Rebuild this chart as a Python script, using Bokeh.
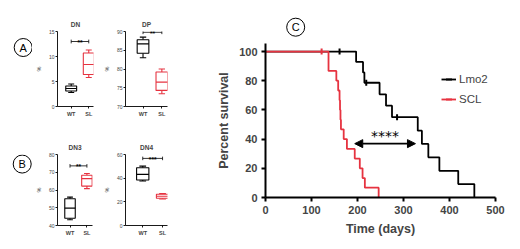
import numpy as np
from bokeh.plotting import figure
from bokeh.models import (Range1d, FixedTicker, ColumnDataSource, Arrow, NormalHead,
                          Legend, LegendItem)
from bokeh.layouts import row, column
from bokeh.embed import file_html
from bokeh.resources import INLINE
from bokeh.core.properties import value

FONT = "Liberation Sans"
BLACK = "#000000"
RED = "#e63340"

# ---------------- data ----------------
groups = ["WT", "SL"]

# box statistics: [min, q1, median, q3, max]
dn_wt = [2.8, 3.1, 3.6, 4.1, 4.5]
dn_sl = [5.8, 6.4, 8.4, 10.7, 11.3]
dp_wt = [83.0, 84.2, 86.7, 87.8, 88.5]
dp_sl = [73.4, 74.3, 76.5, 79.2, 80.0]
dn3_wt = [43.2, 44.1, 49.8, 55.1, 56.0]
dn3_sl = [60.8, 62.2, 66.4, 68.3, 69.3]
dn4_wt = [37.6, 38.4, 43.2, 48.8, 50.2]
dn4_sl = [22.4, 23.0, 24.7, 26.4, 26.9]

dn_ticks = [0, 5, 10, 15]
dp_ticks = [70, 75, 80, 85, 90]
dn3_ticks = [40, 50, 60, 70, 80]
dn4_ticks = [0, 20, 40, 60]

sig_stars = ["**", "**", "**", "***"]
sig_levels = [13.0, 89.8, 73.6, 56.7]

panel_letters = ["A", "B", "C"]

# Kaplan-Meier survival
lmo2_days = [0, 197, 212, 215, 248, 262, 275, 331, 340, 354, 378, 419, 454]
lmo2_surv = [100, 92.9, 85.7, 78.6, 70.7, 62.9, 55.0, 45.8, 36.7, 27.5, 18.3, 9.2, 0]
lmo2_censored = [161, 219, 286]
scl_days = [0, 137, 154, 158, 161, 162, 163, 164, 170, 177, 194, 205, 211, 216, 246]
scl_surv = [100, 86.7, 80.0, 73.3, 66.7, 60.0, 53.3, 46.7, 40.0, 33.3, 26.7, 20.0, 13.3, 6.7, 0]
scl_censored = [122]
surv_xticks = [0, 100, 200, 300, 400, 500]
surv_yticks = [0, 20, 40, 60, 80, 100]
logrank_days = [194, 326]
logrank_level = 36.9
logrank_stars = "****"


def base_fig(w, h, xr, yr, bl, br, bt, bb, axes=True):
    kw = dict(width=w, height=h, x_range=Range1d(*xr), y_range=Range1d(*yr),
              output_backend="svg", toolbar_location=None,
              min_border_left=bl, min_border_right=br,
              min_border_top=bt, min_border_bottom=bb)
    if not axes:
        kw.update(x_axis_type=None, y_axis_type=None)
    f = figure(**kw)
    f.grid.visible = False
    f.outline_line_color = None
    f.background_fill_color = "white"
    f.border_fill_color = "white"
    return f


def letter_fig(letter, w, h, cx, cy, diam):
    f = base_fig(w, h, (0, w), (0, h), 0, 0, 0, 0, axes=False)
    f.scatter([cx], [h - cy], marker="circle", size=diam, fill_color=None,
              line_color=BLACK, line_width=1)
    f.text([cx], [h - cy], text=[letter], text_align="center", text_baseline="middle",
           text_font=value(FONT), text_font_size="11px", text_color=BLACK)
    return f


def box_panel(title, wt, sl, ticks, yr, xr, sig, stars, w, h, bl, br, bt, bb, title_offset=0):
    f = base_fig(w, h, xr, yr, bl, br, bt, bb)
    f.title.text = title
    f.title.align = "center"
    f.title.offset = title_offset
    f.title.text_font = FONT
    f.title.text_font_size = "6.5px"
    f.title.text_font_style = "bold"
    f.title.standoff = 7
    xs = np.arange(1, len(groups) + 1)
    stats = np.array([wt, sl])
    bw, cw = 0.62, 0.17
    src = ColumnDataSource(dict(x=xs, lo=stats[:, 0], q1=stats[:, 1], med=stats[:, 2],
                                q3=stats[:, 3], hi=stats[:, 4],
                                l=xs - bw / 2, r=xs + bw / 2, cl=xs - cw, cr=xs + cw,
                                color=[BLACK, RED]))
    lw = 1.1
    f.segment(x0="x", y0="q3", x1="x", y1="hi", line_color="color", line_width=lw, source=src)
    f.segment(x0="x", y0="q1", x1="x", y1="lo", line_color="color", line_width=lw, source=src)
    f.segment(x0="cl", y0="hi", x1="cr", y1="hi", line_color="color", line_width=lw, source=src)
    f.segment(x0="cl", y0="lo", x1="cr", y1="lo", line_color="color", line_width=lw, source=src)
    f.quad(left="l", right="r", bottom="q1", top="q3", fill_color="white",
           line_color="color", line_width=lw, source=src)
    f.segment(x0="l", y0="med", x1="r", y1="med", line_color="color", line_width=lw, source=src)
    # significance bracket
    tick = 0.05 * (yr[1] - yr[0])
    f.segment(x0=[xs[0]], y0=[sig], x1=[xs[-1]], y1=[sig], line_color=BLACK, line_width=0.8)
    f.segment(x0=[xs[0], xs[-1]], y0=[sig + tick / 2] * 2, x1=[xs[0], xs[-1]],
              y1=[sig - tick / 2] * 2, line_color=BLACK, line_width=0.8)
    f.text(x=[xs.mean()], y=[sig], text=[stars], text_align="center", text_baseline="middle",
           text_font=value(FONT), text_font_size="6.5px", text_font_style="bold",
           text_color=BLACK, y_offset=1)
    # axes
    f.yaxis.ticker = FixedTicker(ticks=ticks)
    f.xaxis.ticker = FixedTicker(ticks=list(xs))
    f.xaxis.major_label_overrides = {int(x): g for x, g in zip(xs, groups)}
    f.yaxis.axis_label = "%"
    for ax in (f.xaxis[0], f.yaxis[0]):
        ax.axis_line_width = 0.9
        ax.major_tick_line_width = 0.9
        ax.major_tick_out = 2
        ax.major_tick_in = 0
        ax.minor_tick_out = 0
        ax.minor_tick_in = 0
        ax.major_label_text_font = FONT
        ax.major_label_standoff = 1
        ax.axis_label_text_font = FONT
        ax.axis_label_text_font_size = "5.5px"
        ax.axis_label_text_font_style = "normal"
        ax.axis_label_standoff = 4
    f.yaxis.major_label_text_font_size = "5px"
    f.xaxis.major_label_text_font_size = "5.5px"
    f.xaxis.major_label_text_font_style = "bold"
    f.xaxis.major_label_standoff = 2
    return f


# ---------------- left panels ----------------
la = letter_fig(panel_letters[0], 32, 125, 22.7, 26.7, 18)
dn = box_panel("DN", dn_wt, dn_sl, dn_ticks, (0, 15), (0.22, 2.27), sig_levels[0], sig_stars[0],
               68, 125, 19, 7, 31, 19)
dp = box_panel("DP", dp_wt, dp_sl, dp_ticks, (70, 90), (0.07, 2.30), sig_levels[1], sig_stars[1],
               100, 125, 21, 33, 31, 19, title_offset=4)
lb = letter_fig(panel_letters[1], 32, 124, 21.7, 16.7, 18)
dn3 = box_panel("DN3", dn3_wt, dn3_sl, dn3_ticks, (40, 80), (0.26, 2.33), sig_levels[2], sig_stars[2],
                68, 124, 19, 8, 29, 24)
dn4 = box_panel("DN4", dn4_wt, dn4_sl, dn4_ticks, (0, 60), (0.13, 2.25), sig_levels[3], sig_stars[3],
                100, 124, 21, 33, 29, 24)

# ---------------- survival panel ----------------
lc = letter_fig(panel_letters[2], 320, 40, 42.0, 26.7, 18)
s = base_fig(320, 209, (0, 500), (0, 105.5), 65, 25, 3, 52)

lmo2_src = ColumnDataSource(dict(t=lmo2_days, s=lmo2_surv))
scl_src = ColumnDataSource(dict(t=scl_days, s=scl_surv))


def at_risk_level(days, surv, times):
    idx = np.searchsorted(np.array(days), np.array(times), side="right") - 1
    return list(np.array(surv)[idx])


lmo2_line = s.step(x="t", y="s", mode="after", line_color=BLACK, line_width=1.8, source=lmo2_src)
lmo2_cens = s.scatter(x=lmo2_censored, y=at_risk_level(lmo2_days, lmo2_surv, lmo2_censored),
                      marker="dash", angle=np.pi / 2, size=6, line_color=BLACK, line_width=2)
scl_line = s.step(x="t", y="s", mode="after", line_color=RED, line_width=1.8, source=scl_src)
scl_cens = s.scatter(x=scl_censored, y=at_risk_level(scl_days, scl_surv, scl_censored),
                     marker="dash", angle=np.pi / 2, size=6, line_color=RED, line_width=2)

s.add_layout(Arrow(x_start=logrank_days[0], x_end=logrank_days[1],
                   y_start=logrank_level, y_end=logrank_level, line_width=1.6, line_color=BLACK,
                   start=NormalHead(size=8, fill_color=BLACK, line_color=BLACK),
                   end=NormalHead(size=8, fill_color=BLACK, line_color=BLACK)))
s.text(x=[np.mean(logrank_days)], y=[logrank_level], text=[logrank_stars], text_align="center",
       text_baseline="bottom", y_offset=0, text_font=value("DejaVu Sans"),
       text_font_size="14px", text_color=BLACK)

legend = Legend(items=[LegendItem(label="Lmo2", renderers=[lmo2_line, lmo2_cens]),
                       LegendItem(label="SCL", renderers=[scl_line, scl_cens])],
                location=(176, 88), glyph_width=15, glyph_height=20, label_height=20,
                label_standoff=3, padding=0, margin=0, spacing=0, border_line_color=None,
                background_fill_alpha=0, label_text_font=FONT, label_text_font_size="11.5px")
s.add_layout(legend)

s.xaxis.ticker = FixedTicker(ticks=surv_xticks)
s.yaxis.ticker = FixedTicker(ticks=surv_yticks)
s.xaxis.axis_label = "Time (days)"
s.yaxis.axis_label = "Percent survival"
for ax in (s.xaxis[0], s.yaxis[0]):
    ax.axis_line_width = 2
    ax.major_tick_line_width = 2
    ax.major_tick_out = 4
    ax.major_tick_in = 0
    ax.minor_tick_out = 0
    ax.minor_tick_in = 0
    ax.major_label_text_font = FONT
    ax.major_label_text_font_size = "11px"
    ax.major_label_text_font_style = "bold"
    ax.major_label_standoff = 4
    ax.axis_label_text_font = FONT
    ax.axis_label_text_font_size = "12.5px"
    ax.axis_label_text_font_style = "bold"
    ax.axis_label_standoff = 5

layout = row(column(row(la, dn, dp), row(lb, dn3, dn4)), column(lc, s))

open("out.html", "w").write(file_html(layout, INLINE))
